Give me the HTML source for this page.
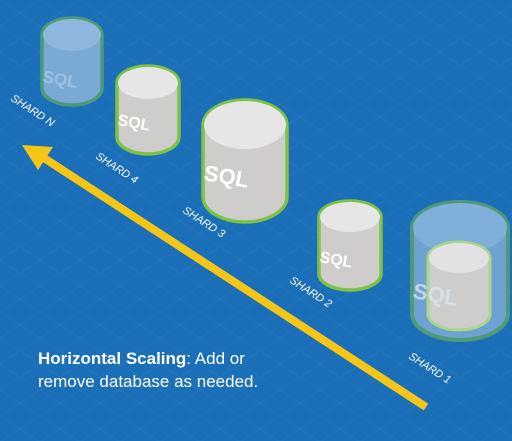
<!DOCTYPE html>
<html><head><style>body{margin:0;background:#1b6fb8}svg{display:block}</style></head><body>
<svg width="512" height="441" viewBox="0 0 512 441" xmlns="http://www.w3.org/2000/svg" font-family="Liberation Sans, sans-serif">
<defs>
<pattern id="g" width="40" height="26" patternUnits="userSpaceOnUse">
<path d="M0 0L40 26M40 0L0 26" stroke="#2676bd" stroke-width="0.6" fill="none"/>
</pattern>
</defs>
<rect width="512" height="441" fill="#1b6fb8"/>
<rect width="512" height="441" fill="url(#g)"/>

<g>
<path d="M42,35 A30,17 0 0 1 102,35 L102,88 A30,17 0 0 1 42,88 Z" fill="#7aa9d4" stroke="#4f9a77" stroke-width="3.5"/>
<ellipse cx="72" cy="35" rx="29" ry="16" fill="#8db7dc"/>
<text x="42" y="82" font-size="17" font-weight="bold" fill="#9ec0e0" transform="rotate(10 42 82)">SQL</text>
</g>
<g>
<path d="M117,83 A31,17 0 0 1 179,83 L179,137 A31,17 0 0 1 117,137 Z" fill="#cfcdcb" stroke="#7dc242" stroke-width="3.5"/>
<ellipse cx="148" cy="83" rx="30" ry="16" fill="#e6e6e6"/>
<text x="117" y="125" font-size="16" font-weight="bold" fill="#fff" transform="rotate(10 117 125)">SQL</text>
</g>
<g>
<path d="M203,125 A42,25 0 0 1 287,125 L287,197 A42,25 0 0 1 203,197 Z" fill="#cfcdcb" stroke="#7dc242" stroke-width="3.5"/>
<ellipse cx="245" cy="125" rx="41" ry="24" fill="#e6e6e6"/>
<text x="203" y="180" font-size="22" font-weight="bold" fill="#fff" transform="rotate(10 203 180)">SQL</text>
</g>
<g>
<path d="M319,217 A31,16 0 0 1 381,217 L381,274 A31,16 0 0 1 319,274 Z" fill="#cfcdcb" stroke="#7dc242" stroke-width="3.5"/>
<ellipse cx="350" cy="217" rx="30" ry="15" fill="#e6e6e6"/>
<text x="319" y="262" font-size="16" font-weight="bold" fill="#fff" transform="rotate(10 319 262)">SQL</text>
</g>
<g>
<path d="M412,228 A48,26 0 0 1 508,228 L508,314 A48,26 0 0 1 412,314 Z" fill="#6ea2d0" stroke="#4f9a77" stroke-width="4"/>
<ellipse cx="460" cy="228" rx="47" ry="25" fill="#80afd9"/>
<path d="M428,258 A31,16 0 0 1 490,258 L490,314 A31,16 0 0 1 428,314 Z" fill="#cfcdcb" stroke="#a8d68a" stroke-width="3"/>
<ellipse cx="459" cy="258" rx="30" ry="15" fill="#e2e2e2"/>
<text x="412" y="298" font-size="22" font-weight="bold" fill="#d8e4ee" opacity="0.8" transform="rotate(10 412 298)">SQL</text>
</g>

<line x1="426" y1="407" x2="44" y2="158" stroke="#f5c518" stroke-width="8"/>
<polygon points="22,145 53,147 38,170" fill="#f5c518"/>

<g fill="#fff" font-size="11" font-style="italic">
<text x="10" y="100" transform="rotate(33 10 100)">SHARD N</text>
<text x="95" y="158" transform="rotate(33 95 158)">SHARD 4</text>
<text x="182" y="212" transform="rotate(33 182 212)">SHARD 3</text>
<text x="289" y="282" transform="rotate(33 289 282)">SHARD 2</text>
<text x="408" y="358" transform="rotate(33 408 358)">SHARD 1</text>
</g>

<text x="38" y="364" font-size="17" fill="#fff"><tspan font-weight="bold">Horizontal Scaling</tspan>: Add or</text>
<text x="38" y="387" font-size="17" fill="#fff">remove database as needed.</text>
</svg>
</body></html>
